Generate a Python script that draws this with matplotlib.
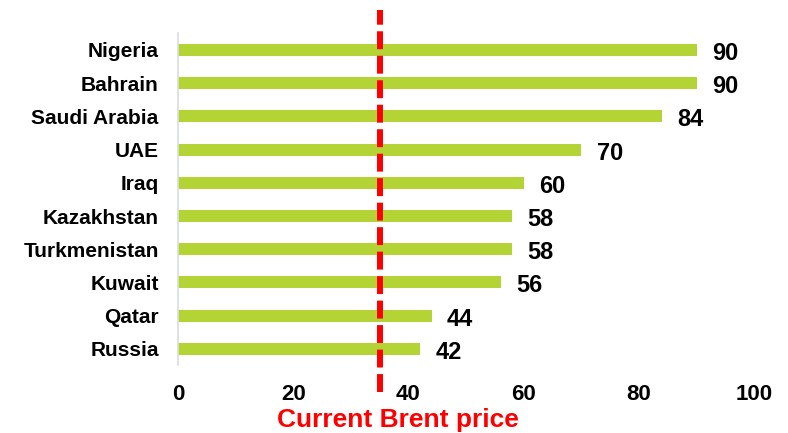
import matplotlib
matplotlib.use("Agg")
import matplotlib.pyplot as plt
import matplotlib.transforms as mtransforms

plt.rcParams['font.family'] = ['Liberation Sans', 'DejaVu Sans']
plt.rcParams['font.weight'] = 'bold'

# breakeven prices, listed bottom to top
countries = ['Russia', 'Qatar', 'Kuwait', 'Turkmenistan', 'Kazakhstan',
             'Iraq', 'UAE', 'Saudi Arabia', 'Bahrain', 'Nigeria']
prices = [42, 44, 56, 58, 58, 60, 70, 84, 90, 90]
brent = 35
xticks = [0, 20, 40, 60, 80, 100]

fig = plt.figure(figsize=(7.88, 4.33), dpi=100)
ax = fig.add_axes([0.226, 0.156, 0.731, 0.767])

ypos = range(len(countries))
ax.barh(ypos, prices, height=0.36, color='#B4D335', zorder=2)

for y, v in zip(ypos, prices):
    ax.annotate(str(v), (v, y), xytext=(11, -2.5), textcoords='offset points',
                ha='left', va='center', fontsize=17, fontweight='bold', color='black')

ax.set_xlim(0, 100)
ax.set_ylim(-0.5, len(countries) - 0.5)
ax.set_xticks(xticks)
ax.set_yticks(list(ypos))
ax.set_yticklabels(countries)
ax.tick_params(axis='y', length=0, pad=14, labelsize=15)
ax.tick_params(axis='x', length=0, pad=13, labelsize=16)

for s in ['top', 'right', 'bottom']:
    ax.spines[s].set_visible(False)
ax.spines['left'].set_color('#D9DEE3')
ax.spines['left'].set_linewidth(1.2)

# current Brent price marker, runs past the plot area
ax.axvline(brent, ymin=-0.079, ymax=1.07, color='#FF0000', lw=4.3,
           dashes=(3, 1.1), dash_capstyle='butt', clip_on=False, zorder=3)

trans = mtransforms.blended_transform_factory(ax.transData, fig.transFigure)
ax.text(brent + 3.2, 0.03, 'Current Brent price', transform=trans,
        ha='center', va='center', fontsize=19, fontweight='bold', color='#FF0000')

fig.savefig('out.png', dpi=100)
